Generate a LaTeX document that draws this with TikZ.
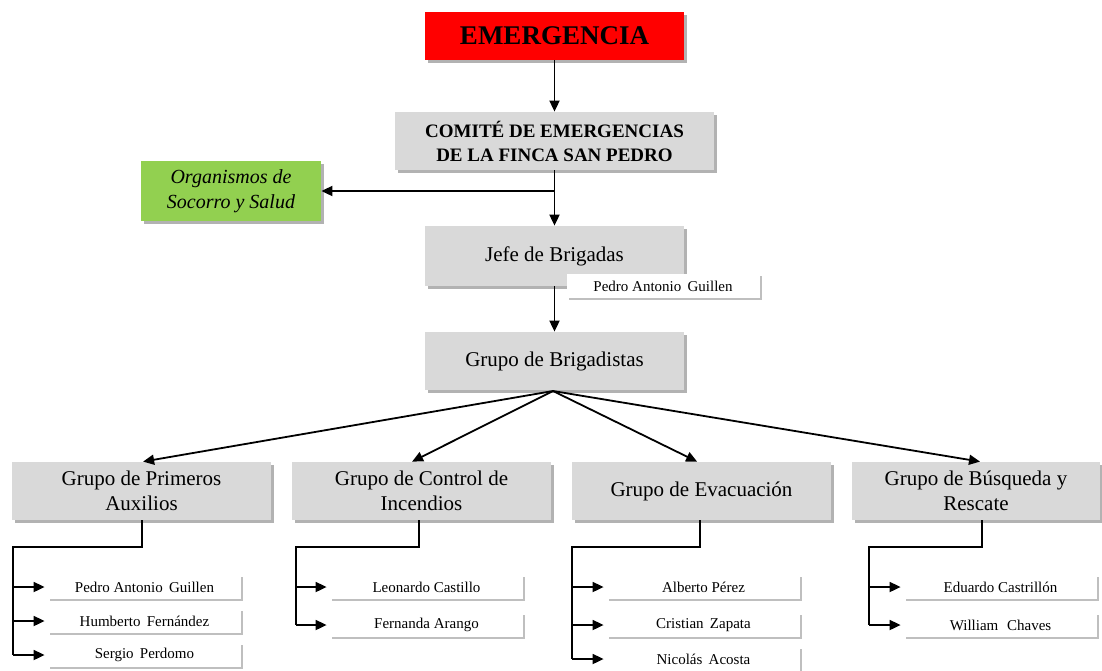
\documentclass[tikz,border=0pt]{standalone}
\usepackage{fontspec}
\setmainfont{Liberation Serif}
\usepackage{xcolor}
\usepackage{tikz}
\usetikzlibrary{arrows.meta, positioning, shadows}
\definecolor{emred}{RGB}{255, 0, 0}
\definecolor{boxgray}{RGB}{217, 217, 217}
\definecolor{helpgreen}{RGB}{146, 208, 80}

\begin{document}
\begin{tikzpicture}[
          x=0.5pt, y=-0.5pt,
          box/.style={fill=boxgray, minimum width=129.5pt, minimum height=29pt, inner sep=1pt,
                      align=center, font=\fontsize{10.5}{12.5}\selectfont,
                      drop shadow={shadow xshift=1.3pt, shadow yshift=-1.3pt, fill=black!55, opacity=0.55}},
          namebox/.style={fill=white, minimum width=96.5pt, minimum height=12pt, inner sep=0pt,
                      font=\fontsize{7.5}{9}\selectfont,
                      drop shadow={shadow xshift=1.1pt, shadow yshift=-1.1pt, fill=black!50, opacity=0.5}},
          arr/.style={-{Triangle[length=5.5pt, width=5pt]}, line width=0.9pt},
          line/.style={line width=0.9pt}
        ]
        \useasboundingbox (0,0) rectangle (1102,670);
        % Top of the chart
        \node[box, fill=emred, minimum height=24pt, font=\fontsize{13.5}{15}\selectfont\bfseries] (emerg) at (554.5,36) {EMERGENCIA};
        \node[box, minimum width=159.5pt, font=\fontsize{9.5}{12}\selectfont\bfseries] (comite) at (554.5,141) {COMITÉ DE EMERGENCIAS\\DE LA FINCA SAN PEDRO};
        \node[box, fill=helpgreen, minimum width=90pt, minimum height=30pt, font=\fontsize{10}{12.5}\selectfont\itshape] (organ) at (231,191) {Organismos de\\Socorro y Salud};
        \node[box, minimum height=30pt] (jefe) at (554.5,256) {Jefe de Brigadas};
        \node[namebox] (jefename) at (663,286) {Pedro Antonio\, Guillen};
        \node[box] (brig) at (554.5,361) {Grupo de Brigadistas};
        % Groups
        \node[box] (g1) at (141.5,491) {Grupo de Primeros\\Auxilios};
        \node[box] (g2) at (421.5,491) {Grupo de Control de\\Incendios};
        \node[box] (g3) at (701.5,491) {Grupo de Evacuación};
        \node[box, minimum width=124pt] (g4) at (976,491) {Grupo de Búsqueda y\\Rescate};
        % Members
        \node[namebox] (n11) at (144.5,587) {Pedro Antonio\, Guillen};
        \node[namebox] (n12) at (144.5,621) {Humberto\, Fernández};
        \node[namebox] (n13) at (144.5,655) {Sergio\, Perdomo};
        \node[namebox] (n21) at (426.5,587) {Leonardo Castillo};
        \node[namebox] (n22) at (426.5,625) {Fernanda Arango};
        \node[namebox] (n31) at (703.5,587) {Alberto Pérez};
        \node[namebox] (n32) at (703.5,625) {Cristian\, Zapata};
        \node[namebox] (n33) at (703.5,659) {Nicolás\, Acosta};
        \node[namebox] (n41) at (1000.5,587) {Eduardo Castrillón};
        \node[namebox] (n42) at (1000.5,625) {William\, \,Chaves};

        \coordinate (split) at (554.5,191);
        \coordinate (fan) at (553,391);
        \coordinate (bus1) at (13,547);
        \coordinate (bus2) at (296,547);
        \coordinate (bus3) at (572,547);
        \coordinate (bus4) at (869,547);

        \draw[arr] (emerg) -- (comite);
        \draw[arr] (comite) -- (jefe);
        \draw[arr] (split) -- (split -| organ.east);
        \draw[arr] (jefe.south) -- (brig.north);
        \draw[arr] (fan) -- ([xshift=0.8pt]g1.north);
        \draw[arr] (fan) -- ([xshift=-4.7pt]g2.north);
        \draw[arr] (fan) -- ([xshift=-2.2pt]g3.north);
        \draw[arr] (fan) -- ([xshift=2pt]g4.north);

        % Member lists
        \draw[line] ([xshift=0.3pt]g1.south) |- (bus1) -- (bus1 |- n13.west);
        \draw[arr] (bus1 |- n11.west) -- ([xshift=-1.5pt]n11.west);
        \draw[arr] (bus1 |- n12.west) -- ([xshift=-1.5pt]n12.west);
        \draw[arr] (bus1 |- n13.west) -- ([xshift=-1.5pt]n13.west);
        \draw[line] ([xshift=-1.2pt]g2.south) |- (bus2) -- (bus2 |- n22.west);
        \draw[arr] (bus2 |- n21.west) -- ([xshift=-1.5pt]n21.west);
        \draw[arr] (bus2 |- n22.west) -- ([xshift=-1.5pt]n22.west);
        \draw[line] ([xshift=-0.8pt]g3.south) |- (bus3) -- (bus3 |- n33.west);
        \draw[arr] (bus3 |- n31.west) -- ([xshift=-1.5pt]n31.west);
        \draw[arr] (bus3 |- n32.west) -- ([xshift=-1.5pt]n32.west);
        \draw[arr] (bus3 |- n33.west) -- ([xshift=-1.5pt]n33.west);
        \draw[line] ([xshift=3pt]g4.south) |- (bus4) -- (bus4 |- n42.west);
        \draw[arr] (bus4 |- n41.west) -- ([xshift=-1.5pt]n41.west);
        \draw[arr] (bus4 |- n42.west) -- ([xshift=-1.5pt]n42.west);
      \end{tikzpicture}
\end{document}
